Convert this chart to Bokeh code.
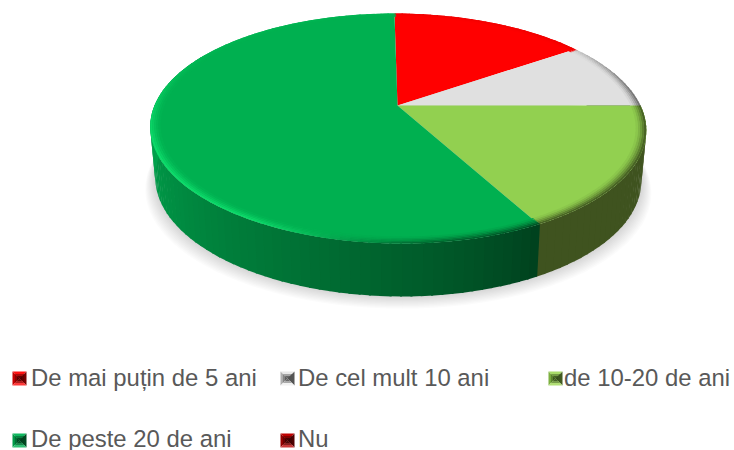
import math
from bokeh.plotting import figure
from bokeh.models import Range1d, ColumnDataSource
from bokeh.core.properties import value
from bokeh.embed import file_html
from bokeh.resources import INLINE

categories = ["De mai puțin de 5 ani", "De cel mult 10 ani", "de 10-20 de ani", "De peste 20 de ani", "Nu"]
counts = [8, 5, 9, 30, 0]
top_colors = ["#FF0000", "#E0E0E0", "#92D050", "#00B050", "#C00000"]
wall_dark = [(120, 0, 0), (110, 110, 110), (64, 84, 32), (0, 70, 32), (90, 0, 0)]

W, H = 734, 450
p = figure(width=W, height=H, x_range=Range1d(0, W), y_range=Range1d(H, 0),
           output_backend="svg", toolbar_location=None, min_border=0,
           background_fill_color="white", border_fill_color="white", outline_line_color=None)
p.axis.visible = False
p.grid.visible = False

# perspective of the disc: u right, v toward viewer
CX, PY, A, B, K, SKEW = 396.5, 105.0, 243.0, 89.4, -0.2, 0.033


def proj(u, v, scale=1.0, drop=0.0):
    w = 1 + K * v
    y = (PY + B * v) / w
    return CX + A * scale * u / w + SKEW * (y - PY) + 0.5, y + drop * (1 + 0.06 * (v - 1))


def mix(c1, c2, t):
    return tuple(a + (b - a) * t for a, b in zip(c1, c2))


def hexmix(c1, c2, t):
    return "#%02x%02x%02x" % tuple(int(round(v)) for v in mix(c1, c2, t))


def rgb(h):
    return tuple(int(h[j:j + 2], 16) for j in (1, 3, 5))


def smooth(a, b, x):
    t = max(0.0, min(1.0, (x - a) / (b - a)))
    return t * t * (3 - 2 * t)


DROP = 53.0
BASE = 0.98
total = sum(counts)
edges = [0.0]
for c in counts:
    edges.append(edges[-1] + 360.0 * c / total)


def slice_of(deg):
    d = deg % 360
    for i in range(len(counts)):
        if edges[i] <= d < edges[i + 1]:
            return i
    return 3


def pt(deg, scale=1.0, drop=0.0):
    t = math.radians(deg)
    if drop == 0:
        return proj(scale * math.sin(t), -scale * math.cos(t))
    return proj(math.sin(t), -math.cos(t), BASE, drop)


def green_wall(deg):
    t = max(0.0, min(1.0, (deg - 150) / 120.0))
    return mix((0, 62, 28), (0, 166, 78), t ** 0.8)


# soft shadow under the pie
for i in range(10):
    grow = 1 + (9 - i) * 0.0040
    xs, ys = [], []
    for d in range(0, 360, 3):
        x, y = pt(d, 1.0, DROP)
        xs.append(CX + (x - CX) * grow * 1.005)
        ys.append(y + 1 + (9 - i) * 1.25)
    p.patch(xs, ys, fill_color="#000000", fill_alpha=0.014, line_color=None)

# side wall
STEP = 2.0
deg = 60.0
sxs, sys_, cols = [], [], []
while deg < 300:
    a, b = deg, deg + STEP + 0.4
    i = slice_of(deg + STEP / 2)
    x1, y1 = pt(a)
    x2, y2 = pt(b)
    x3, y3 = pt(b, 1.0, DROP)
    x4, y4 = pt(a, 1.0, DROP)
    sxs.append([x1, x2, x3, x4])
    sys_.append([y1, y2, y3, y4])
    if i == 3:
        c = hexmix(green_wall(deg), green_wall(deg), 0)
    elif i == 2:
        c = hexmix((66, 86, 32), (60, 80, 30), 0.5)
    else:
        c = hexmix(wall_dark[i], wall_dark[i], 0)
    cols.append(c)
    deg += STEP
p.patches("xs", "ys", fill_color="c", line_color=None,
          source=ColumnDataSource(dict(xs=sxs, ys=sys_, c=cols)))

# top face
for i in range(4):
    pts = [(CX + 0.5, PY)]
    d = edges[i]
    while d < edges[i + 1]:
        pts.append(pt(d))
        d += 1.0
    pts.append(pt(edges[i + 1]))
    p.patch([q[0] for q in pts], [q[1] for q in pts], fill_color=top_colors[i], line_color=None)

# rim bevel on the edge of the top face
RINGS = [(1.0, 0.85), (0.992, 0.62), (0.984, 0.4), (0.976, 0.22), (0.968, 0.08)]
rxs, rys, rcs = [], [], []
for sc, strength in RINGS:
    for d0 in range(0, 360, 2):
        dm = d0 + 1.0
        i = slice_of(dm)
        base = rgb(top_colors[i])
        x1, y1 = pt(d0, sc)
        x2, y2 = pt(d0 + 2.4, sc)
        x3, y3 = pt(d0 + 2.4, sc - 0.009)
        x4, y4 = pt(d0, sc - 0.009)
        if i == 3:
            b = smooth(172, 215, dm)
            target = mix(green_wall(dm), (16, 228, 112), b)
            amt = strength * (1 - 0.85 * smooth(240, 305, dm))
        elif i == 2:
            target, amt = (60, 80, 30), strength
        elif i == 1:
            target, amt = (95, 95, 95), strength * smooth(40, 90, dm)
        else:
            target, amt = (120, 0, 0), strength * 0.15
        rxs.append([x1, x2, x3, x4])
        rys.append([y1, y2, y3, y4])
        rcs.append(hexmix(base, target, amt))
p.patches("xs", "ys", fill_color="c", line_color=None,
          source=ColumnDataSource(dict(xs=rxs, ys=rys, c=rcs)))

# legend
leg_x = [12, 280, 548, 12, 280]
leg_y = [378, 378, 378, 440, 440]
txt_x = [30.5, 297.5, 563.5, 30.5, 297.5]
txt_y = [377, 377, 377, 438, 438]
HALF = 7
tri = [
    [("#ff1010", "#c80000", "#7a0000", "#ff3a3a"), (70, 0, 0)],
    [("#e8e8e8", "#b0b0b0", "#555555", "#f2f2f2"), (80, 80, 80)],
    [("#a8dc68", "#7db040", "#435c22", "#b2df76"), (50, 75, 25)],
    [("#10b860", "#009a48", "#004a22", "#30bf72"), (0, 60, 28)],
    [("#c00000", "#960000", "#500000", "#c83838"), (50, 0, 0)],
]
for i, name in enumerate(categories):
    cx, cy = leg_x[i] + HALF, leg_y[i]
    (ct, cl, cr, cb), inner = tri[i]
    tl, tr, bl, br = (-1, -1), (1, -1), (-1, 1), (1, 1)
    for a, b, c in [(tl, tr, ct), (tl, bl, cl), (tr, br, cr), (bl, br, cb)]:
        p.patch([cx + a[0] * HALF, cx + b[0] * HALF, cx], [cy + a[1] * HALF, cy + b[1] * HALF, cy],
                fill_color=c, line_color=None)
        for sc, amt in ((0.66, 0.45), (0.36, 0.85)):
            p.patch([cx + a[0] * HALF * sc, cx + b[0] * HALF * sc, cx],
                    [cy + a[1] * HALF * sc, cy + b[1] * HALF * sc, cy],
                    fill_color=hexmix(rgb(c), inner, amt), line_color=None)
    p.text([txt_x[i]], [txt_y[i]], text=[name], text_font=value("Liberation Sans"),
           text_font_size="23.9px", text_color="#595959", text_baseline="middle", text_align="left")

open("out.html", "w").write(file_html(p, INLINE))
